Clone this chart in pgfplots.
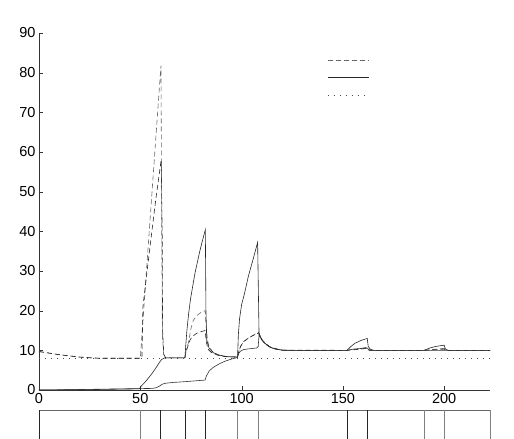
\documentclass[border=0pt]{standalone}
\usepackage{fontspec}
\setmainfont{Liberation Sans}
\usepackage{pgfplots}
\pgfplotsset{compat=1.18}
\begin{document}
\begin{tikzpicture}
\path[use as bounding box] (-39pt,-49pt) rectangle (475pt,390pt);
\begin{axis}[
  at={(0,0)}, anchor=south west,
  scale only axis, width=451pt, height=357pt,
  xmin=0, xmax=222.6, ymin=0, ymax=90,
  axis x line=bottom, axis y line=left,
  axis line style={-, black!80},
  tick align=inside, major tick length=4pt,
  tick style={black!80},
  xtick={0,50,...,200}, ytick={0,10,...,90},
  tick label style={font=\fontsize{14.5}{16}\selectfont},
  /pgf/number format/assume math mode=true,
  every axis plot/.append style={line width=0.6pt},
  legend style={draw=none, fill=none, at={(0.6386,0.95)}, anchor=north west,
    inner sep=0pt, row sep=0pt,
    nodes={inner sep=0pt, minimum height=17.5pt}},
  legend image code/.code={\draw[#1] (0pt,0pt) -- (41pt,0pt);},
]
% dashed, first run
\addplot[black!60, dash pattern=on 5pt off 3pt] coordinates {
(0,9.7)(5,9.3)(10,8.9)(15,8.6)(20,8.3)(25,8.1)(30,8.0)(50,8.0)
(52,22.5)(54,37)(56,51.5)(58,66)(60.2,81.8)(60.6,40)(60.9,14)(61.5,9)(62.5,8.1)
(72,8.1)(72.6,10)(73.7,11.8)(75,15.5)(76.2,17.6)(78,18.8)(80.3,19.7)(82,20)
(82.5,16)(83.2,12.5)(84,10.8)(86,9.5)(89,8.7)(93,8.4)(98,8.3)
(98.5,9.5)(99.5,11)(101,12.2)(103,13)(105,13.6)(107,14.2)(108.3,14.6)
(109,13.5)(110,12.6)(112,11.5)(114,10.8)(117,10.3)(120,10.05)(124,10)
(152,10)(155,10.2)(158,10.4)(162,10.8)(163,10.2)(165,10)
(190,10)(194,10.2)(200,10.5)(201,10)(222.6,10)};
\addlegendentry{\mbox{}}
% solid, first run
\addplot[black!85] coordinates {
(0,0)(25,0.1)(49.5,0.3)(50.5,1)(52,1.8)(54,3)(56,4.3)(58,5.8)(59.5,7)(60.5,7.7)(62,8.1)
(72,8.1)(72.4,11)(73,15)(73.8,19)(74.8,23)(77,29.5)(79.5,35.3)(81,38.3)(82.1,40.4)
(82.4,20)(82.8,12.5)(84,10.5)(86,9.4)(89,8.8)(93,8.4)(98,8.3)
(98.4,14)(99,18)(100,21.5)(101.5,24.5)(103.3,28.6)(105.8,33.2)(107.9,37.2)
(108.6,14.4)(109.5,13.2)(111,12)(113,11.2)(115,10.6)(118,10.2)(121,10)
(152,10)(154,11)(156,11.8)(159,12.5)(162,13)(162.5,11)(163.5,10.3)(165,10)
(190,10)(193,10.6)(196,11)(200,11.3)(200.6,10.3)(202,10)(222.6,10)};
\addlegendentry{\mbox{}}
% dotted
\addplot[black!70, dash pattern=on 1pt off 5pt] coordinates {(0,8)(222.6,8)};
\addlegendentry{\mbox{}}
% dashed, second run
\addplot[black!85, dash pattern=on 5pt off 3pt, forget plot] coordinates {
(0,9.7)(10,8.9)(20,8.3)(30,8.0)(50,8.0)(50.8,8.2)(51.3,21)(53,28.5)(55,37)
(57.5,47.5)(60.3,58)(60.8,40)(61,15)(61.6,9)(62.5,8.1)
(72,8.1)(72.8,10)(74.5,12.6)(76,13.6)(77.8,14.3)(80,14.7)(82,15)
(82.6,12)(83.6,10.2)(85,9.5)(88,8.8)(92,8.4)(98,8.3)
(98.5,9.5)(99.5,11)(101,12.2)(104,13.3)(108.3,14.4)(110,12.6)(114,10.8)(120,10.05)
(152,10)(155,10.1)(162,10.5)(163,10)(190,10)(200,10.3)(201,10)(222.6,10)};
% solid, second run
\addplot[black!80, forget plot] coordinates {
(0,0)(18,0.1)(30,0.2)(50,0.35)(56,0.4)(58,0.6)(59.5,1)(61,1.5)(62.5,1.7)
(66,1.9)(72,2.1)(82,2.5)(82.6,3.5)(84,4.8)(86,5.7)(89,6.6)(92,7.3)(95,7.8)(98,8.2)
(98.5,9.2)(99.5,9.8)(101,10.2)(104,10.4)(107.5,10.6)(108.2,11)(108.6,13.8)
(109.5,13)(111,12)(113,11.1)(116,10.4)(120,10.05)(124,10)
(152,10)(155,10.3)(162,10.6)(163,10)(222.6,10)};
\end{axis}
\begin{axis}[
  at={(0,-20pt)}, anchor=north west,
  scale only axis, width=451pt, height=29pt,
  xmin=0, xmax=222.6, ymin=0, ymax=1,
  axis x line=top, axis y line=none,
  axis line style={-, black!60},
  xtick=\empty, ytick=\empty, clip=false,
]
\addplot[ycomb, black!85, line width=0.6pt, mark=none] coordinates {
(0,1)(60,1)(72,1)(82,1)(152,1)(162,1)};
\addplot[ycomb, black!50, line width=0.6pt, mark=none] coordinates {
(50,1)(98,1)(108,1)(190,1)(200,1)(222.6,1)};
\end{axis}
\end{tikzpicture}
\end{document}
